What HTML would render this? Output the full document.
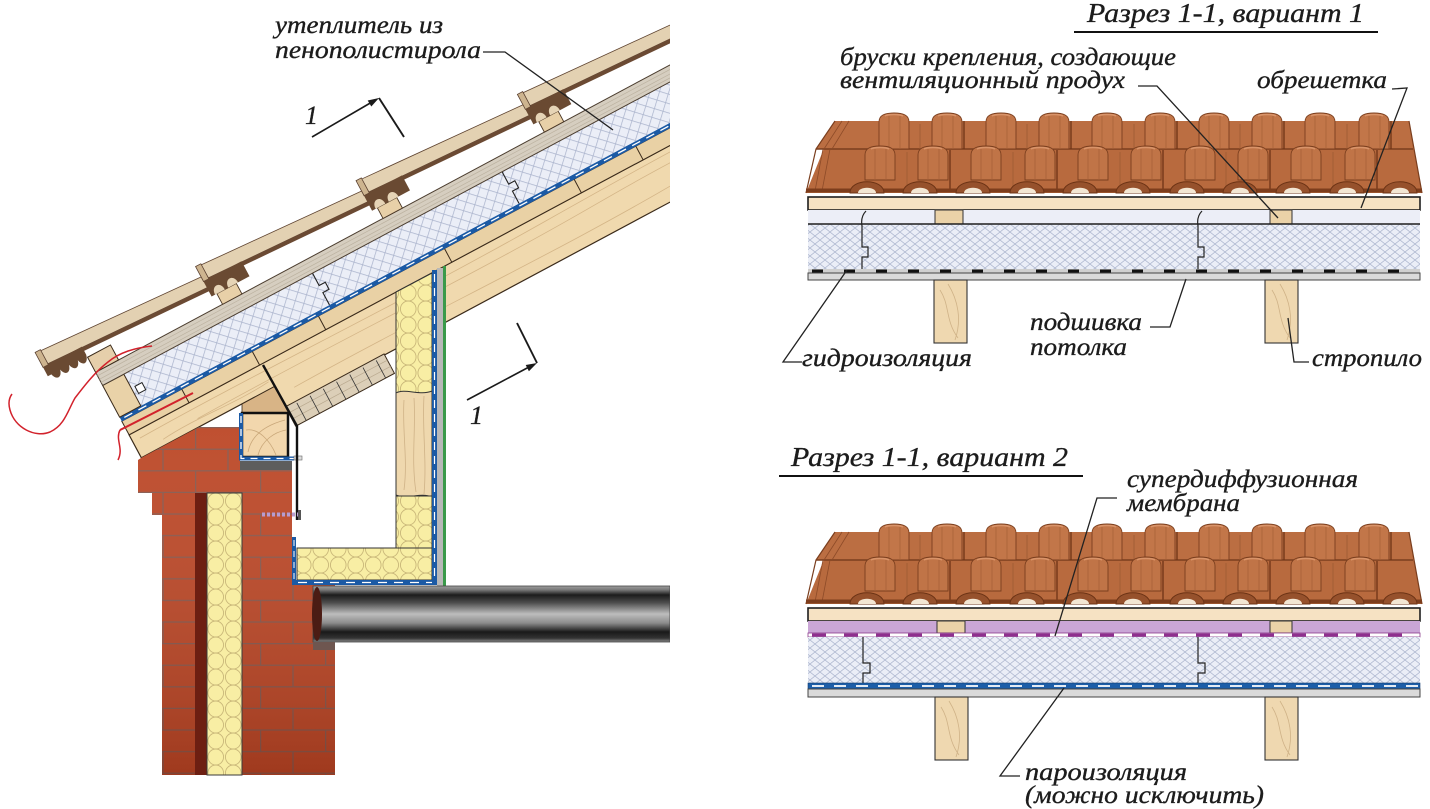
<!DOCTYPE html>
<html><head><meta charset="utf-8">
<style>
html,body{margin:0;padding:0;background:#fff;width:1430px;height:809px;overflow:hidden}
svg{display:block}
.t{font-family:"Liberation Serif","DejaVu Serif",serif;font-style:italic;fill:#1c1c1c;stroke:#1c1c1c;stroke-width:0.35px}
</style></head><body>
<svg width="1430" height="809" viewBox="0 0 1430 809" xmlns="http://www.w3.org/2000/svg" xmlns:xlink="http://www.w3.org/1999/xlink">
<defs>
<pattern id="xh" patternUnits="userSpaceOnUse" width="10" height="8">
<rect width="10" height="8" fill="#ebeef7"/>
<path d="M0,0 L10,8 M10,0 L0,8" stroke="#aeb7cf" stroke-width="0.75"/>
</pattern>
<pattern id="xhl" patternUnits="userSpaceOnUse" width="9" height="9" patternTransform="rotate(45)">
<rect width="9" height="9" fill="#ebeef7"/>
<path d="M0,0.3 H9 M0.3,0 V9" stroke="#aab3cc" stroke-width="0.85"/>
</pattern>
<pattern id="yw" patternUnits="userSpaceOnUse" x="207" y="493" width="17.5" height="16">
<rect width="17.5" height="16" fill="#f8eea4"/>
<ellipse cx="8.75" cy="8" rx="7.8" ry="8" fill="none" stroke="#c9b779" stroke-width="0.9"/>
</pattern>
<pattern id="br" patternUnits="userSpaceOnUse" x="0" y="427" width="65" height="43.2">
<rect width="65" height="43.2" fill="#bc4726"/>
<path d="M0,0.6 H65 M0,22.2 H65 M0.6,0 V21.6 M33,21.6 V43.2" stroke="#84584e" stroke-width="1.3"/>
</pattern>
<linearGradient id="bsh" x1="0" y1="0" x2="0" y2="1">
<stop offset="0" stop-color="#ffffff" stop-opacity="0.05"/>
<stop offset="1" stop-color="#3a0a00" stop-opacity="0.22"/>
</linearGradient>
<linearGradient id="pg" x1="0" y1="0" x2="0" y2="1">
<stop offset="0" stop-color="#a0a0a0"/>
<stop offset="0.07" stop-color="#777"/>
<stop offset="0.16" stop-color="#1c1c1c"/>
<stop offset="0.3" stop-color="#4e4e4e"/>
<stop offset="0.5" stop-color="#bdbdbd"/>
<stop offset="0.66" stop-color="#8c8c8c"/>
<stop offset="0.82" stop-color="#1a1a1a"/>
<stop offset="0.93" stop-color="#333"/>
<stop offset="1" stop-color="#8a8a8a"/>
</linearGradient>
<clipPath id="lc"><rect x="0" y="0" width="670" height="809"/></clipPath>
<g id="hA">
<path d="M-15,36 L-15,9 C-15,2 -9,0 0,0 C9,0 15,2 15,9 L15,36 Z" fill="#c27649" stroke="#7a3e1e" stroke-width="0.9"/>
<path d="M-5,3 V36 M6,3 V36" stroke="#a45f37" stroke-width="0.7"/>
<path d="M-9,3 C-6,1 6,1 9,3" stroke="#d9946a" stroke-width="1.5" fill="none"/>
</g>
<g id="hB">
<path d="M-15,34 L-15,9 C-15,2 -9,0 0,0 C9,0 15,2 15,9 L15,34 Z" fill="#c07447" stroke="#7a3e1e" stroke-width="0.9"/>
<path d="M-5,3 V34 M6,3 V34" stroke="#a45f37" stroke-width="0.7"/>
<path d="M-9,3 C-6,1 6,1 9,3" stroke="#d9946a" stroke-width="1.5" fill="none"/>
</g>
<g id="rl">
<path d="M-17,0 C-17,-15 17,-15 17,0 Z" fill="#96512c" stroke="#6c3315" stroke-width="0.9"/>
<path d="M-9,0 C-9,-7 9,-7 9,0 Z" fill="#f3e6d3"/>
</g>
<g id="hook">
<path d="M-3,0 H40 V17 H-3 Z" fill="#6a4a32"/>
<path d="M1,17 C1,7 12,7 12,17 Z M16,17 C16,7 27,7 27,17 Z" fill="#e6d4b6"/>
</g>
</defs>

<!-- ================= LEFT DIAGRAM ================= -->
<g clip-path="url(#lc)">
<g transform="translate(669,28) rotate(-28.15)">
 <!-- rafter -->
 <path d="M-668,104 H40 V154 H-517 V130 H-668 Z" fill="#f0d9ae" stroke="#3a2a1a" stroke-width="1.2"/>
 <path d="M-660,112 C-520,109 -380,116 -200,112 S0,110 40,113 M-600,122 C-450,119 -300,126 -150,121 S-20,124 40,122 M-500,140 C-350,137 -200,146 -50,139 S10,142 40,141 M-640,124 C-600,120 -560,127 -520,123" stroke="#d4b587" stroke-width="0.8" fill="none"/>
 <!-- soffit comb -->
 <rect x="-517" y="153" width="112" height="22" fill="#dccfb8" stroke="#3a2a1a" stroke-width="1"/>
 <path d="M-517,160 H-405 M-517,167 H-405" stroke="#b8a88e" stroke-width="0.7"/>
 <path d="M-505,155 V175 M-490,155 V175 M-475,155 V175 M-460,155 V175 M-445,155 V175 M-430,155 V175 M-415,155 V175" stroke="#333" stroke-width="0.8"/>
 <!-- lining boards -->
 <rect x="-668" y="88.5" width="710" height="15.5" fill="#e9d1a5" stroke="#3a2a1a" stroke-width="1"/>
 <path d="M-600,88.5 V104 M-520,88.5 V104 M-445,88.5 V104 M-302,88.5 V104 M-155,88.5 V104 M-85,88.5 V104" stroke="#3a2a1a" stroke-width="1"/>
 <!-- membrane -->
 <rect x="-668" y="84" width="710" height="4.8" fill="#1b5aa5"/>
 <path d="M-664,86.4 H40" stroke="#ffffff" stroke-width="1.3" stroke-dasharray="9 7"/>
 <!-- EPS -->
 <rect x="-668" y="48" width="710" height="36" fill="url(#xhl)"/>
 <rect x="-668" y="48" width="24" height="36" fill="#e9d2a8" stroke="#3a2a1a" stroke-width="1"/>
 <rect x="-640" y="64" width="8" height="8" fill="#fff" stroke="#222" stroke-width="1"/>
 <path d="M-215,48 V62 H-208 V70 H-215 V84 M-430,48 V62 H-423 V70 H-430 V84" stroke="#222" stroke-width="1.1" fill="none"/>
 <!-- sheathing stripe -->
 <rect x="-668" y="33" width="710" height="15" fill="#d6cec0" stroke="#4a3c2e" stroke-width="1"/>
 <path d="M-668,37 H42 M-668,41 H42 M-668,44.5 H42" stroke="#bcb2a0" stroke-width="0.7"/>
 <!-- eave batten -->
 <rect x="-668" y="16" width="26" height="17" fill="#e6cfab" stroke="#3a2a1a" stroke-width="1"/>
 <!-- battens -->
 <rect x="-524" y="21" width="22" height="12" fill="#e8d0a8" stroke="#4a3624" stroke-width="0.9"/>
 <rect x="-342" y="21" width="22" height="12" fill="#e8d0a8" stroke="#4a3624" stroke-width="0.9"/>
 <rect x="-159" y="21" width="22" height="12" fill="#e8d0a8" stroke="#4a3624" stroke-width="0.9"/>
 <!-- tiles -->
 <polygon points="-709,-12 -509,0 -509,12 -706,3" fill="#e3d1b2" stroke="#5e4330" stroke-width="0.8"/>
 <polygon points="-706,3 -509,12 -509,16 -706,7" fill="#6b4a33"/>
 <rect x="-712" y="-13" width="6" height="17" fill="#cdb48f" stroke="#5a4030" stroke-width="0.8"/>
 <path d="M-712,4 H-668 V13 C-670,22 -676,22 -678,14 C-680,22 -686,22 -688,14 C-690,22 -696,22 -698,14 C-700,22 -706,22 -708,14 L-712,14 Z" fill="#6a4a32"/>

 <polygon points="-527,-12 -327,0 -327,12 -524,3" fill="#e3d1b2" stroke="#5e4330" stroke-width="0.8"/>
 <polygon points="-524,3 -327,12 -327,16 -524,7" fill="#6b4a33"/>
 <rect x="-530" y="-13" width="6" height="17" fill="#cdb48f" stroke="#5a4030" stroke-width="0.8"/>
 <use href="#hook" x="-527" y="4"/>

 <polygon points="-345,-12 -145,0 -145,12 -342,3" fill="#e3d1b2" stroke="#5e4330" stroke-width="0.8"/>
 <polygon points="-342,3 -145,12 -145,16 -342,7" fill="#6b4a33"/>
 <rect x="-348" y="-13" width="6" height="17" fill="#cdb48f" stroke="#5a4030" stroke-width="0.8"/>
 <use href="#hook" x="-345" y="4"/>

 <polygon points="-162,-12 38,0 38,12 -159,3" fill="#e3d1b2" stroke="#5e4330" stroke-width="0.8"/>
 <polygon points="-159,3 38,12 38,16 -159,7" fill="#6b4a33"/>
 <rect x="-165" y="-13" width="6" height="17" fill="#cdb48f" stroke="#5a4030" stroke-width="0.8"/>
 <use href="#hook" x="-162" y="4"/>
</g>

<!-- notch region above wall plate -->
<polygon points="242,404 274.5,386.5 288.5,413 242,413" fill="#d8b486" stroke="#3a2a1a" stroke-width="0.8"/>

<!-- brick wall -->
<path d="M141,458 L199,427 L240,427 L240,470 L292,470 L292,585 L335,585 L335,775 L162,775 L162,515 L152,515 L152,493 L138,493 L138,460 Z" fill="url(#br)"/>
<path d="M141,458 L199,427 L240,427 L240,470 L292,470 L292,585 L335,585 L335,775 L162,775 L162,515 L152,515 L152,493 L138,493 L138,460 Z" fill="url(#bsh)"/>
<rect x="195" y="493" width="12" height="282" fill="#6d1f12"/>
<rect x="207" y="493" width="35" height="282" fill="url(#yw)" stroke="#3a3a3a" stroke-width="1"/>

<!-- wall plate -->
<rect x="242" y="413" width="46" height="44" fill="#f2d7ad" stroke="#111" stroke-width="2.5"/>
<path d="M248,452 C252,432 270,424 285,420 M258,455 C262,440 275,432 286,430 M246,430 C258,428 270,440 276,455" stroke="#c9a779" stroke-width="0.8" fill="none"/>
<path d="M241,413 V458.5 H294" stroke="#1b5aa5" stroke-width="4" fill="none"/>
<path d="M241,416 V458.5 H294" stroke="#fff" stroke-width="1.3" stroke-dasharray="7 6" fill="none"/>
<rect x="294" y="456" width="8" height="4" fill="#ddd" stroke="#666" stroke-width="0.6"/>
<rect x="240" y="461" width="52" height="9" fill="#5d5d5d"/>
<path d="M263,365 L297,426 L297,520" stroke="#111" stroke-width="2.4" fill="none"/>
<path d="M262,514.5 H299" stroke="#b79ccf" stroke-width="4" stroke-dasharray="3 2"/>
<rect x="298" y="510" width="3" height="10" fill="#555"/>

<!-- vapor barrier L + insulation -->
<rect x="292" y="537" width="4" height="48" fill="#1b5aa5"/>
<path d="M294,540 V582" stroke="#fff" stroke-width="1" stroke-dasharray="6 5"/>
<rect x="297" y="548" width="135" height="32" fill="url(#yw)" stroke="#333" stroke-width="1"/>
<polygon points="396,292 432,273 432,393 396,393" fill="url(#yw)" stroke="#333" stroke-width="1"/>
<path d="M396,393 C405,388 420,396 432,391 L432,497 C420,492 408,500 396,495 Z" fill="#efd8ae" stroke="#333" stroke-width="1"/>
<path d="M404,400 C402,430 408,460 404,490 M414,398 C416,430 411,460 416,492 M424,396 C422,430 427,460 424,494" stroke="#cfb287" stroke-width="0.8" fill="none"/>
<rect x="396" y="496" width="36" height="52" fill="url(#yw)" stroke="#333" stroke-width="1"/>
<rect x="432" y="270" width="5" height="315" fill="#1b5aa5"/>
<path d="M434.5,274 V580" stroke="#fff" stroke-width="1.2" stroke-dasharray="8 6"/>
<rect x="437" y="268" width="6" height="319" fill="#b8b8b8"/>
<rect x="443" y="266" width="3" height="321" fill="#3a9a4a"/>
<rect x="294" y="580" width="143" height="5" fill="#1b5aa5"/>
<path d="M298,582.5 H432" stroke="#fff" stroke-width="1.3" stroke-dasharray="9 7"/>

<!-- pipe -->
<rect x="313" y="586" width="357" height="56" fill="url(#pg)" stroke="#444" stroke-width="0.8"/>
<ellipse cx="317" cy="614" rx="5" ry="27" fill="#4b1c14"/>
<rect x="313" y="642" width="22" height="8" fill="#6e5650"/>
</g>

<!-- red wire -->
<path d="M152,346 C135,348 120,352 108,362 C95,372 85,385 75,398 C68,410 65,425 50,432 C35,438 15,428 10,410 C8,403 9,398 12,394" stroke="#d2222c" stroke-width="1.5" fill="none"/>
<path d="M120,430 L193,393" stroke="#d2222c" stroke-width="2" fill="none"/>
<path d="M120,430 C115,440 124,448 118,460" stroke="#d2222c" stroke-width="1.5" fill="none"/>

<!-- section marks -->
<path d="M312,137 L372,102" stroke="#1a1a1a" stroke-width="1.6"/>
<polygon points="379,98 371.3,106.5 367.7,100.5" fill="#1a1a1a"/>
<path d="M379,98 L404,137" stroke="#1a1a1a" stroke-width="1.9"/>
<path d="M467,400 L529,367" stroke="#1a1a1a" stroke-width="1.6"/>
<polygon points="537,363 528.9,371.2 525.7,365" fill="#1a1a1a"/>
<path d="M517,323 L537,363" stroke="#1a1a1a" stroke-width="1.9"/>
<text class="t" x="305" y="124" font-size="26">1</text>
<text class="t" x="470" y="424" font-size="26">1</text>

<!-- left labels -->
<text class="t" x="275" y="33" font-size="25" textLength="168" lengthAdjust="spacingAndGlyphs">утеплитель из</text>
<text class="t" x="275" y="58" font-size="25" textLength="206" lengthAdjust="spacingAndGlyphs">пенополистирола</text>
<path d="M483,52 H505 L613,130" stroke="#222" stroke-width="1.3" fill="none"/>

<!-- ================= RIGHT: SECTION 1 ================= -->
<g id="tiles">
<path d="M835,121 L1409,121 L1422,193 L806,193 Z" fill="#b86a3e"/>
<path d="M835,121 L1409,121 L1413,149 L816,149 Z" fill="#bb6e42"/>
<path d="M816,149 H1413" stroke="#7a3e1e" stroke-width="1.5"/>
<path d="M835,121 L816,149 L806,193 M1409,121 L1422,193" stroke="#7a3e1e" stroke-width="1.2" fill="none"/>
<path d="M842,121 L824,149 M849,121 L832,149 M823,149 L815,191 M830,149 L822,191" stroke="#8e4b28" stroke-width="0.8"/>
<path d="M920,124 V149 M1027,124 V149 M1134,124 V149 M1240,124 V149 M1347,124 V149 M907,152 V189 M1013,152 V189 M1120,152 V189 M1226,152 V189 M1333,152 V189" stroke="#9d5a33" stroke-width="0.8"/>
<use href="#hA" x="894" y="113"/><use href="#hA" x="947" y="113"/><use href="#hA" x="1001" y="113"/><use href="#hA" x="1054" y="113"/><use href="#hA" x="1107" y="113"/><use href="#hA" x="1160" y="113"/><use href="#hA" x="1214" y="113"/><use href="#hA" x="1267" y="113"/><use href="#hA" x="1320" y="113"/><use href="#hA" x="1374" y="113"/>
<use href="#hB" x="880" y="146"/><use href="#hB" x="933" y="146"/><use href="#hB" x="986" y="146"/><use href="#hB" x="1040" y="146"/><use href="#hB" x="1093" y="146"/><use href="#hB" x="1146" y="146"/><use href="#hB" x="1200" y="146"/><use href="#hB" x="1253" y="146"/><use href="#hB" x="1306" y="146"/><use href="#hB" x="1360" y="146"/>
<path d="M964,121 V149 M1071,121 V149 M1177,121 V149 M1284,121 V149 M1391,121 V149 M950,150 V189 M1057,150 V189 M1163,150 V189 M1270,150 V189 M1377,150 V189" stroke="#6e3416" stroke-width="1.3"/>
<path d="M806,190.5 H1422" stroke="#7d3d1c" stroke-width="4"/>
<use href="#rl" x="867" y="193"/><use href="#rl" x="920" y="193"/><use href="#rl" x="973" y="193"/><use href="#rl" x="1027" y="193"/><use href="#rl" x="1080" y="193"/><use href="#rl" x="1133" y="193"/><use href="#rl" x="1187" y="193"/><use href="#rl" x="1240" y="193"/><use href="#rl" x="1293" y="193"/><use href="#rl" x="1347" y="193"/><use href="#rl" x="1400" y="193"/>
<rect x="808" y="197" width="612" height="13" fill="#f6e2c3" stroke="#1e1e1e" stroke-width="1.6"/>
</g>

<rect x="808" y="210" width="612" height="14" fill="#eceef7"/>
<rect x="935" y="210" width="28" height="14" fill="#ead2a8" stroke="#333" stroke-width="1"/>
<rect x="1270" y="210" width="22" height="14" fill="#ead2a8" stroke="#333" stroke-width="1"/>
<rect x="808" y="224" width="612" height="45" fill="url(#xh)"/>
<path d="M808,224 H1420" stroke="#1e1e1e" stroke-width="1.6"/>
<path d="M866,211 C862,215 861,220 862,226 L862,247 L868,247 L868,257 L862,257 L862,269 M1202,211 C1198,215 1197,220 1198,226 L1198,247 L1204,247 L1204,257 L1198,257 L1198,269" stroke="#222" stroke-width="1.2" fill="none"/>
<rect x="808" y="269" width="612" height="4" fill="#d0d0d0"/>
<path d="M812,271 H1420" stroke="#111" stroke-width="3" stroke-dasharray="11 21"/>
<rect x="808" y="273" width="612" height="7" fill="#dadada" stroke="#444" stroke-width="1"/>
<rect x="934" y="280" width="33" height="63" fill="#efd8b0" stroke="#333" stroke-width="1.1"/>
<rect x="1265" y="280" width="33" height="63" fill="#efd8b0" stroke="#333" stroke-width="1.1"/>
<path d="M940,290 C950,305 945,320 958,338 M948,284 C958,300 962,320 955,340 M1272,290 C1282,305 1277,320 1290,338 M1280,284 C1290,300 1294,320 1287,340" stroke="#cfb287" stroke-width="0.8" fill="none"/>

<!-- section 1 text -->
<text class="t" x="1087" y="22" font-size="27" textLength="277" lengthAdjust="spacingAndGlyphs">Разрез 1-1, вариант 1</text>
<path d="M1074,32 H1378" stroke="#111" stroke-width="2"/>
<text class="t" x="840" y="65" font-size="25" textLength="336" lengthAdjust="spacingAndGlyphs">бруски крепления, создающие</text>
<text class="t" x="840" y="88" font-size="25" textLength="285" lengthAdjust="spacingAndGlyphs">вентиляционный продух</text>
<text class="t" x="1257" y="88" font-size="25" textLength="130" lengthAdjust="spacingAndGlyphs">обрешетка</text>
<path d="M1138,86 H1157 L1278,218" stroke="#222" stroke-width="1.3" fill="none"/>
<path d="M1392,89 L1407,88 L1361,208" stroke="#222" stroke-width="1.3" fill="none"/>
<text class="t" x="802" y="366" font-size="25" textLength="170" lengthAdjust="spacingAndGlyphs">гидроизоляция</text>
<text class="t" x="1030" y="330" font-size="25" textLength="112" lengthAdjust="spacingAndGlyphs">подшивка</text>
<text class="t" x="1030" y="355" font-size="25" textLength="97" lengthAdjust="spacingAndGlyphs">потолка</text>
<text class="t" x="1312" y="366" font-size="25" textLength="110" lengthAdjust="spacingAndGlyphs">стропило</text>
<path d="M802,362 H783 L847,270" stroke="#222" stroke-width="1.3" fill="none"/>
<path d="M1150,327 H1170 L1186,279" stroke="#222" stroke-width="1.3" fill="none"/>
<path d="M1309,362 H1294 L1288,318" stroke="#222" stroke-width="1.3" fill="none"/>

<!-- ================= RIGHT: SECTION 2 ================= -->
<use href="#tiles" x="0" y="411"/>
<rect x="808" y="621" width="612" height="12" fill="#caa6d6"/>
<rect x="937" y="621" width="28" height="12" fill="#ead2a8" stroke="#333" stroke-width="1"/>
<rect x="1270" y="621" width="22" height="12" fill="#ead2a8" stroke="#333" stroke-width="1"/>
<rect x="808" y="633" width="612" height="4" fill="#fff" stroke="#8b3a8b" stroke-width="0.8"/>
<path d="M812,635 H1420" stroke="#8e2f8e" stroke-width="3" stroke-dasharray="14 18"/>
<rect x="808" y="637" width="612" height="46" fill="url(#xh)"/>
<path d="M863,637 L863,663 L870,663 L870,673 L863,673 L863,683 M1198,637 L1198,663 L1205,663 L1205,673 L1198,673 L1198,683" stroke="#222" stroke-width="1.2" fill="none"/>
<rect x="808" y="683" width="612" height="6" fill="#1d5ea8" stroke="#123d70" stroke-width="0.6"/>
<path d="M812,686 H1420" stroke="#fff" stroke-width="1.8" stroke-dasharray="12 10"/>
<rect x="808" y="689" width="612" height="8" fill="#dadada" stroke="#444" stroke-width="1"/>
<rect x="935" y="697" width="33" height="63" fill="#efd8b0" stroke="#333" stroke-width="1.1"/>
<rect x="1265" y="697" width="33" height="63" fill="#efd8b0" stroke="#333" stroke-width="1.1"/>
<path d="M941,707 C951,722 946,737 959,755 M949,701 C959,717 963,737 956,757 M1272,707 C1282,722 1277,737 1290,755 M1280,701 C1290,717 1294,737 1287,757" stroke="#cfb287" stroke-width="0.8" fill="none"/>

<!-- section 2 text -->
<text class="t" x="791" y="466" font-size="27" textLength="277" lengthAdjust="spacingAndGlyphs">Разрез 1-1, вариант 2</text>
<path d="M779,476 H1083" stroke="#111" stroke-width="2"/>
<text class="t" x="1127" y="487" font-size="25" textLength="231" lengthAdjust="spacingAndGlyphs">супердиффузионная</text>
<text class="t" x="1127" y="511" font-size="25" textLength="113" lengthAdjust="spacingAndGlyphs">мембрана</text>
<path d="M1117,498 H1097 L1055,636" stroke="#222" stroke-width="1.3" fill="none"/>
<text class="t" x="1025" y="780" font-size="25" textLength="162" lengthAdjust="spacingAndGlyphs">пароизоляция</text>
<text class="t" x="1025" y="803" font-size="25" textLength="239" lengthAdjust="spacingAndGlyphs">(можно исключить)</text>
<path d="M1020,776 H1000 L1064,688" stroke="#222" stroke-width="1.3" fill="none"/>
</svg>
</body></html>
